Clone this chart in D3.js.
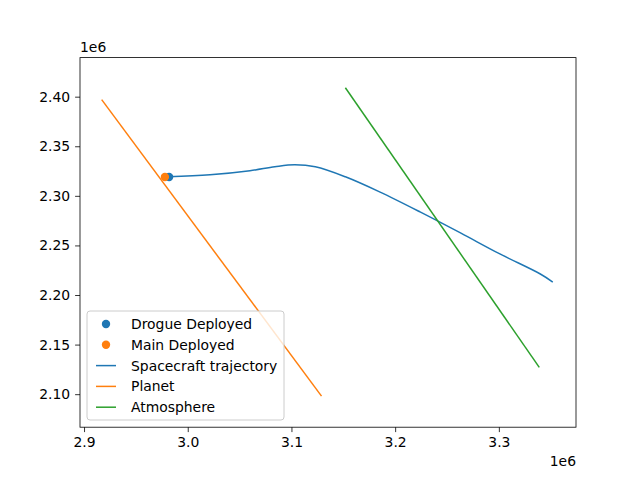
<!DOCTYPE html>
<html>
<head>
<meta charset="utf-8">
<script src="https://d3js.org/d3.v7.min.js"></script>
<style>
body { margin: 0; background: #fff; }
text { font-family: "DejaVu Sans", sans-serif; }
</style>
</head>
<body>
<script>
// values in units of 1e6
var trajX = [2.981, 3.0215, 3.060, 3.084, 3.103, 3.123, 3.152, 3.185, 3.224, 3.263, 3.301, 3.340, 3.352];
var trajY = [2.3192, 2.3212, 2.3253, 2.3293, 2.3313, 2.3293, 2.3192, 2.3040, 2.2838, 2.2626, 2.2414, 2.2212, 2.2131];
var planetX = [2.917, 3.129];
var planetY = [2.397, 2.098];
var atmoX = [3.152, 3.339];
var atmoY = [2.409, 2.127];
var drogue = [2.982, 2.319];
var mainDep = [2.978, 2.319];
var xTicks = [2.9, 3.0, 3.1, 3.2, 3.3];
var yTicks = [2.10, 2.15, 2.20, 2.25, 2.30, 2.35, 2.40];
var legendLabels = ["Drogue Deployed", "Main Deployed", "Spacecraft trajectory", "Planet", "Atmosphere"];
var colors = ["#1f77b4", "#ff7f0e", "#1f77b4", "#ff7f0e", "#2ca02c"];

var W = 640, H = 480;
var mLeft = 80, mRight = 576, mTop = 57.6, mBottom = 427.2;

var svg = d3.select("body").append("svg").attr("width", W).attr("height", H);

var x = d3.scaleLinear().domain([2.8961, 3.3744]).range([mLeft, mRight]);
var y = d3.scaleLinear().domain([2.0667, 2.4394]).range([mBottom, mTop]);

var line = d3.line().x(function(d) { return x(d[0]); }).y(function(d) { return y(d[1]); });
function zip(a, b) { return a.map(function(v, i) { return [v, b[i]]; }); }

var plot = svg.append("g");
plot.append("path").datum(zip(trajX, trajY)).attr("d", line.curve(d3.curveCatmullRom))
    .attr("fill", "none").attr("stroke", colors[2]).attr("stroke-width", 1.5);
line.curve(d3.curveLinear);
plot.append("path").datum(zip(planetX, planetY)).attr("d", line)
    .attr("fill", "none").attr("stroke", colors[3]).attr("stroke-width", 1.5);
plot.append("path").datum(zip(atmoX, atmoY)).attr("d", line)
    .attr("fill", "none").attr("stroke", colors[4]).attr("stroke-width", 1.5);
plot.append("circle").attr("cx", x(drogue[0])).attr("cy", y(drogue[1])).attr("r", 4.2).attr("fill", colors[0]);
plot.append("circle").attr("cx", x(mainDep[0])).attr("cy", y(mainDep[1])).attr("r", 4.2).attr("fill", colors[1]);

function styleAxis(g) {
    g.select(".domain").remove();
    g.selectAll("text").attr("font-size", "13.9px").attr("font-family", "DejaVu Sans").attr("fill", "#000");
    g.selectAll("line").attr("stroke", "#000").attr("stroke-width", 0.8);
}
svg.append("g").attr("transform", "translate(0," + mBottom + ")")
    .call(d3.axisBottom(x).tickValues(xTicks).tickFormat(d3.format(".1f")).tickSizeOuter(0).tickSize(4.9).tickPadding(4.9))
    .call(styleAxis);
svg.append("g").attr("transform", "translate(" + mLeft + ",0)")
    .call(d3.axisLeft(y).tickValues(yTicks).tickFormat(d3.format(".2f")).tickSizeOuter(0).tickSize(4.9).tickPadding(4.9))
    .call(styleAxis);

svg.append("rect").attr("x", mLeft).attr("y", mTop).attr("width", mRight - mLeft).attr("height", mBottom - mTop)
    .attr("fill", "none").attr("stroke", "#000").attr("stroke-width", 0.8);

svg.append("text").attr("x", mLeft).attr("y", 52).attr("font-size", "13.9px").text("1e6");
svg.append("text").attr("x", mRight).attr("y", 466).attr("text-anchor", "end").attr("font-size", "13.9px").text("1e6");

// legend
var lg = svg.append("g").attr("transform", "translate(87,311)");
lg.append("rect").attr("width", 197).attr("height", 109).attr("rx", 3)
    .attr("fill", "#fff").attr("fill-opacity", 0.8).attr("stroke", "#ccc").attr("stroke-width", 1);
legendLabels.forEach(function(lab, i) {
    var cy = 13 + i * 20.8;
    if (i < 2) {
        lg.append("circle").attr("cx", 19).attr("cy", cy).attr("r", 4.2).attr("fill", colors[i]);
    } else {
        lg.append("line").attr("x1", 9).attr("x2", 29).attr("y1", cy).attr("y2", cy)
            .attr("stroke", colors[i]).attr("stroke-width", 1.5);
    }
    lg.append("text").attr("x", 44).attr("y", cy + 5).attr("font-size", "13.9px").text(lab);
});
</script>
</body>
</html>
